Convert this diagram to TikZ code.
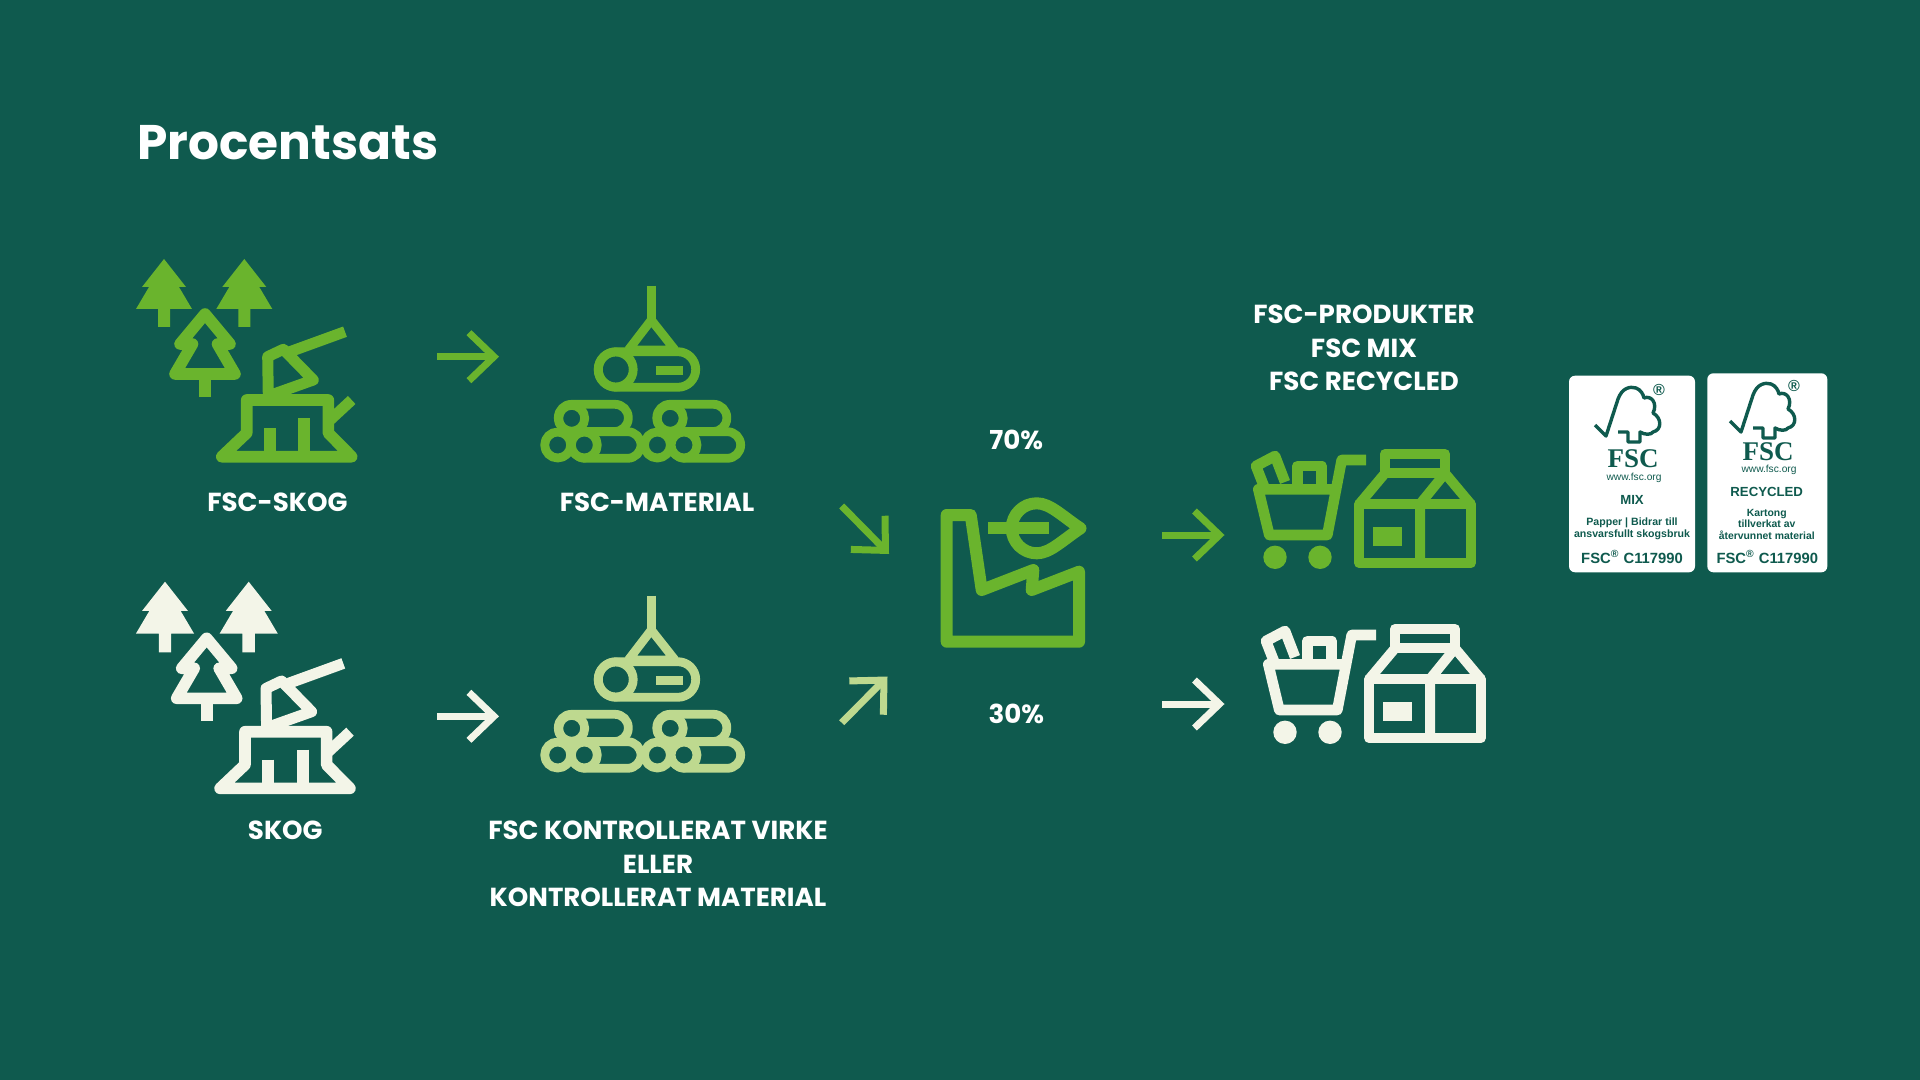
\documentclass[tikz,border=0pt]{standalone}
\usepackage{fontspec}
\setmainfont{Poppins}
\newfontfamily\badgefont{Liberation Sans}
\newfontfamily\badgeserif{Liberation Serif}
\usetikzlibrary{arrows.meta}
\definecolor{bgteal}{RGB}{15, 90, 78}
\definecolor{fscgreen}{RGB}{106, 180, 45}
\definecolor{palegreen}{RGB}{190, 217, 143}
\definecolor{cream}{RGB}{243, 245, 232}

\begin{document}
\begin{tikzpicture}[
  x=0.5pt, y=-0.5pt,
  line join=round,
  caption/.style={text=white, align=center, font=\bfseries\fontsize{13.05}{16.8}\selectfont},
  flowarrow/.style={line width=3.5pt, -{Straight Barb[length=12.5pt, width=24pt, line width=3.5pt]}},
  badge/.style={fill=white, rounded corners=3pt},
  badgetext/.style={text=bgteal, align=center, inner sep=0pt},
  conifer/.pic={
    \fill (0,0) -- (22,28) -- (15,28) -- (28,50) -- (6,50) -- (6,68) -- (-6,68) -- (-6,50)
      -- (-28,50) -- (-15,28) -- (-22,28) -- cycle;
  },
  hollowtree/.pic={
    \draw[line width=5.8pt] (0,0) -- (25,30) -- (12.5,30) -- (30,60) -- (-30,60) -- (-12.5,30) -- (-25,30) -- cycle;
    \draw[line width=6pt] (0,60) -- (0,83);
  },
  stump/.pic={
    \draw[line width=5.8pt, line cap=round] (221.7,456.7) -- (351.7,456.7) -- (328.3,433) -- (328.3,400)
      -- (246.7,400) -- (246.7,433) -- cycle;
    \draw[line width=5.5pt] (328.3,421.7) -- (351.7,400);
    \draw[line width=6pt] (270,428) -- (270,453) (304.3,418) -- (304.3,453);
    \draw[line width=5.5pt] (268.3,396) -- (267.7,356.7) -- (283.3,349.3) -- (313.3,380) -- (268.3,396);
    \draw[line width=5.5pt] (290,351.7) -- (345,331.7);
  },
  logpile/.pic={
    \draw[line width=4.6pt] (651.3,285.7) -- (651.3,320);
    \draw[line width=4.4pt] (628.3,350) -- (651.3,320) -- (675,350) (628.3,350) -- (675,350);
    \draw[line width=4.4pt, rounded corners=8.9pt] (598.3,351.7) rectangle (695.7,387.3);
    \draw[line width=4.4pt] (615.7,369.5) circle (17.5);
    \fill (656,366) rectangle (682.7,375);
    \foreach \dx in {0,98.5} {
      \draw[line width=4.4pt, rounded corners=6.7pt] (\dx+558.3,404.3) rectangle (\dx+628.3,431.5);
      \fill[bgteal] (\dx+571.7,418.3) circle (13);
      \draw[line width=4.4pt] (\dx+571.7,418.3) circle (13);
    }
    \foreach \dx in {0,99.7} {
      \draw[line width=4.4pt, rounded corners=6.7pt] (\dx+571.7,431.7) rectangle (\dx+641,458.3);
      \fill[bgteal] (\dx+557.7,445) circle (13);
      \fill[bgteal] (\dx+584.3,445) circle (13);
      \draw[line width=4.4pt] (\dx+557.7,445) circle (13) (\dx+584.3,445) circle (13);
    }
  },
  cart/.pic={
    \draw[line width=5.3pt] (1366,460) -- (1341.7,460) -- (1327.3,535) -- (1269.3,535) -- (1258.3,489.3) -- (1335,489.3);
    \fill (1275,557.3) circle (11.7) (1320,557.3) circle (11.7);
    \draw[line width=5.3pt] (1265,489) -- (1256,466) -- (1275,456) -- (1285,482);
    \draw[line width=5.3pt] (1297.3,489) -- (1297.3,466) -- (1321.7,466) -- (1321.7,489);
  },
  carton/.pic={
    \draw[line width=5pt] (1385,454) rectangle (1445,473.3);
    \draw[line width=5pt] (1359.3,504) rectangle (1470.7,563.3);
    \draw[line width=5pt] (1359.3,504) -- (1385,473.3) (1445,473.3) -- (1470.7,504);
    \draw[line width=5pt] (1420,563.3) -- (1420,504) -- (1445,473.3);
    \fill (1373.3,526.7) rectangle (1402.3,545.7);
  },
  leaffactory/.pic={
    \draw[line width=6pt] (946.7,515) -- (970.7,515) -- (981.7,590) -- (1033.3,570) -- (1031.7,590) -- (1079,571.7)
      -- (1079,641.7) -- (946.7,641.7) -- cycle;
    \draw[line width=6pt] (1080.5,528.3) .. controls (1062,516) and (1050,503.3) .. (1036.7,503.3)
      .. controls (1023,503.3) and (1011.7,514.5) .. (1011.7,528.3)
      .. controls (1011.7,542) and (1023,553.3) .. (1036.7,553.3)
      .. controls (1050,553.3) and (1062,540.6) .. (1080.5,528.3) -- cycle;
    \draw[line width=6pt] (988.3,528.3) -- (1049.3,528.3);
  },
  fsclogo/.pic={
    \draw[bgteal, line width=1.7pt] (10,50) -- (21,61) -- (33,24) .. controls (37,13) and (45,11) .. (51,13)
      .. controls (56,15) and (58,19) .. (59,23) .. controls (66,20) and (73,28) .. (68,38)
      .. controls (77,43) and (77,55) .. (68,57) .. controls (66,60) and (60,60) .. (55,57)
      -- (55,67) -- (43,67) -- (43,57) -- (33,57);
    \node[badgetext, font=\badgefont\bfseries\fontsize{8}{8}\selectfont] (reg) at (74,15) {®};
  }
]
  \fill[bgteal] (0,0) rectangle (1920,1080);
  \useasboundingbox (0,0) rectangle (1920,1080);

  \node[anchor=base west, inner sep=0pt, text=white, font=\bfseries\fontsize{24.3}{28}\selectfont] (title) at (137,160) {Procentsats};

  % upper row
  \pic[color=fscgreen] at (164,259) {conifer};
  \pic[color=fscgreen] at (244.3,259) {conifer};
  \pic[color=fscgreen] at (205,314) {hollowtree};
  \pic[color=fscgreen] at (0,0) {stump};
  \pic[color=fscgreen] at (0,0) {logpile};
  \pic[color=fscgreen] at (0,0) {cart};
  \pic[color=fscgreen] at (0,0) {carton};
  \pic[color=fscgreen] at (0,0) {leaffactory};

  % lower row
  \pic[color=cream, scale=1.04] at (165,581.7) {conifer};
  \pic[color=cream, scale=1.04] at (248.7,581.7) {conifer};
  \pic[color=cream] at (206.7,638.3) {hollowtree};
  \pic[color=cream] at (-1.7,331.7) {stump};
  \pic[color=palegreen] at (0,310) {logpile};
  \pic[color=cream] at (10,175) {cart};
  \pic[color=cream] at (10,175) {carton};

  \node[caption] (skogfsc) at (277.4,502) {FSC-SKOG};
  \node[caption] (materialfsc) at (657,502) {FSC-MATERIAL};
  \node[caption] (skog) at (285.3,830) {SKOG};
  \node[caption] (virke) at (658,864) {FSC KONTROLLERAT VIRKE\\ELLER\\KONTROLLERAT MATERIAL};
  \node[caption] (produkter) at (1364,348) {FSC-PRODUKTER\\FSC MIX\\FSC RECYCLED};
  \node[caption] (seventy) at (1016.3,439.6) {70\%};
  \node[caption] (thirty) at (1016.3,714) {30\%};

  % arrows
  \coordinate (upperfrom) at (437,356.7);
  \coordinate (upperto) at (499,356.7);
  \coordinate (lowerfrom) at (437,716.3);
  \coordinate (lowerto) at (499,716.3);
  \coordinate (sevenfrom) at (841.7,506);
  \coordinate (sevento) at (889,554);
  \coordinate (threefrom) at (841.7,722.7);
  \coordinate (threeto) at (887.5,676.5);
  \coordinate (mixfrom) at (1162,535);
  \coordinate (mixto) at (1224.5,535);
  \coordinate (plainfrom) at (1162,704);
  \coordinate (plainto) at (1224.5,704);
  \draw[flowarrow, fscgreen] (upperfrom) -- (upperto);
  \draw[flowarrow, cream] (lowerfrom) -- (lowerto);
  \draw[flowarrow, fscgreen] (sevenfrom) -- (sevento);
  \draw[flowarrow, palegreen] (threefrom) -- (threeto);
  \draw[flowarrow, fscgreen] (mixfrom) -- (mixto);
  \draw[flowarrow, cream] (plainfrom) -- (plainto);

  % badges
  \fill[badge] (1569,375.7) rectangle (1695,572.3);
  \fill[badge] (1707.3,373.3) rectangle (1827.3,572.3);
  \pic (mixlogo) at (1585,375) {fsclogo};
  \pic (recylogo) at (1720,371) {fsclogo};

  \node[badgetext, font=\badgeserif\bfseries\fontsize{13.5}{14}\selectfont] (mixfsc) at (1633,458.5) {FSC};
  \node[badgetext, font=\badgefont\fontsize{5.1}{6}\selectfont] (mixweb) at (1634,477.5) {www.fsc.org};
  \node[badgetext, font=\badgefont\bfseries\fontsize{6.6}{8}\selectfont] (mixname) at (1632,500) {MIX};
  \node[badgetext, font=\badgefont\bfseries\fontsize{5.3}{5.8}\selectfont] (mixnote) at (1632,528.5) {Papper | Bidrar till\\ansvarsfullt skogsbruk};
  \node[badgetext, font=\badgefont\bfseries\fontsize{7.4}{8}\selectfont] (mixcode) at (1632,557) {FSC\textsuperscript{®} C117990};

  \node[badgetext, font=\badgeserif\bfseries\fontsize{13.5}{14}\selectfont] (recyfsc) at (1768,451.2) {FSC};
  \node[badgetext, font=\badgefont\fontsize{5.1}{6}\selectfont] (recyweb) at (1769,470.2) {www.fsc.org};
  \node[badgetext, font=\badgefont\bfseries\fontsize{6.6}{8}\selectfont] (recyname) at (1766.7,491.7) {RECYCLED};
  \node[badgetext, font=\badgefont\bfseries\fontsize{5.2}{5.7}\selectfont] (recynote) at (1766.7,524.3) {Kartong\\tillverkat av\\återvunnet material};
  \node[badgetext, font=\badgefont\bfseries\fontsize{7.4}{8}\selectfont] (recycode) at (1767.3,557) {FSC\textsuperscript{®} C117990};
\end{tikzpicture}
\end{document}
